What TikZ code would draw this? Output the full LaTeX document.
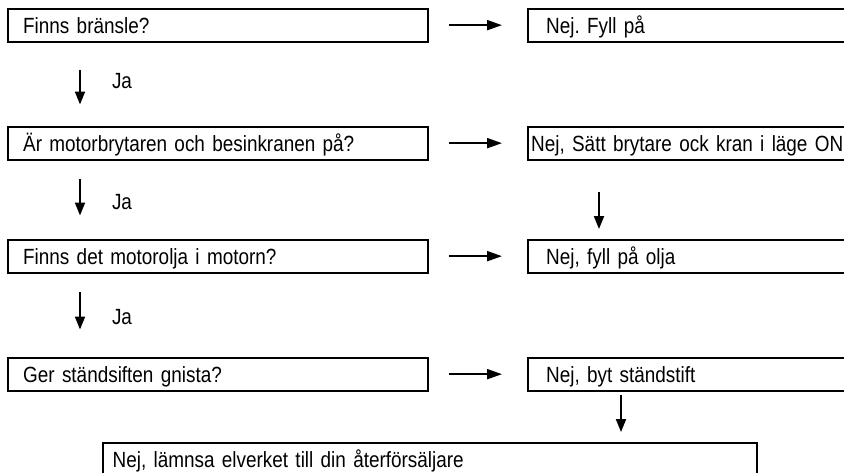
\documentclass[tikz,border=0pt]{standalone}
\usepackage{fontspec}
\setmainfont[FakeStretch=0.86]{Liberation Sans}
\usetikzlibrary{arrows.meta}
\begin{document}
\frenchspacing
\begin{tikzpicture}[x=1pt,y=-1pt,
  box/.style={draw, line width=2.3pt, anchor=north west, minimum height=33pt,
    text height=16pt, text depth=0pt, inner ysep=0pt, align=left,
    font=\fontsize{22pt}{26pt}\selectfont},
  lbox/.style={box, inner xsep=15pt, text width=390pt},
  rbox/.style={box, inner xsep=18pt, text width=304pt},
  arr/.style={line width=2pt, -{Triangle[length=15pt,width=10pt]}},
  darr/.style={line width=2pt, -{Triangle[length=13pt,width=10pt]}},
  lab/.style={font=\fontsize{22pt}{26pt}\selectfont, inner sep=0pt, anchor=west}
]
\clip (0,0) rectangle (844,472);
\fill[white] (0,0) rectangle (844,472);

% left column
\node[lbox] (l1) at (7,7.5) {Finns bränsle?};
\node[lbox] (l2) at (7,125.5) {Är motorbrytaren och besinkranen på?};
\node[lbox] (l3) at (7,238.5) {Finns det motorolja i motorn?};
\node[lbox] (l4) at (7,356.5) {Ger ständsiften gnista?};

% right column
\node[rbox] (r1) at (527,7.5) {Nej. Fyll på};
\node[box, inner xsep=3pt, text width=334pt] (r2) at (527,125.5) {Nej, Sätt brytare ock kran i läge ON};
\node[rbox] (r3) at (527,238.5) {Nej, fyll på olja};
\node[rbox] (r4) at (527,356.5) {Nej, byt ständstift};

% final
\node[box, inner xsep=9.5pt, text width=635pt, minimum height=32pt] (fin) at (102,442) {Nej, lämnsa elverket till din återförsäljare};

% horizontal arrows
\foreach \i in {1,2,3,4}{
  \draw[arr, shorten <=20pt, shorten >=25pt] (l\i.east) -- (r\i.west);
}

% left downward arrows with Ja
\draw[darr, shorten <=27pt, shorten >=21pt] ([xshift=73pt]l1.south west) -- ([xshift=73pt]l2.north west)
  node[midway, lab, xshift=31pt, yshift=3pt] (ja1) {Ja};
\draw[darr, shorten <=18pt, shorten >=23pt] ([xshift=73pt]l2.south west) -- ([xshift=73pt]l3.north west)
  node[midway, lab, xshift=31pt, yshift=-2pt] (ja2) {Ja};
\draw[darr, shorten <=18pt, shorten >=27pt] ([xshift=73pt]l3.south west) -- ([xshift=73pt]l4.north west)
  node[midway, lab, xshift=31pt, yshift=-2pt] (ja3) {Ja};

% right downward arrows
\draw[darr, shorten <=31.5pt, shorten >=9.5pt] ([xshift=72pt]r2.south west) -- ([xshift=72pt]r3.north west);
\draw[darr, shorten <=3.5pt, shorten >=10pt] ([xshift=94pt]r4.south west) -- ([xshift=94pt]r4.south west |- fin.north);
\end{tikzpicture}
\end{document}
